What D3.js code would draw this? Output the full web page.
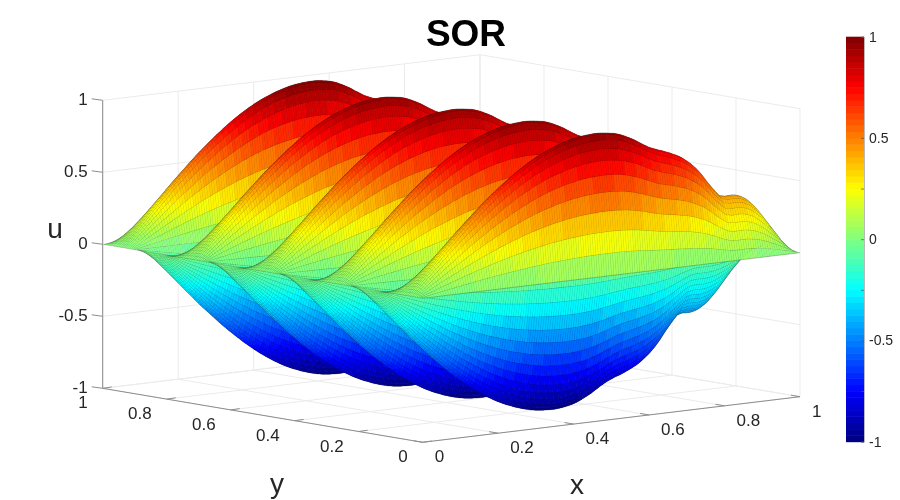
<!DOCTYPE html>
<html>
<head>
<meta charset="utf-8">
<script src="https://cdn.jsdelivr.net/npm/d3@7"></script>
<style>
  body { margin: 0; background: #fff; }
  #plot { position: relative; width: 900px; height: 500px; }
  #plot canvas, #plot svg { position: absolute; left: 0; top: 0; }
  text { font-family: "Liberation Sans", Arial, sans-serif; }
</style>
</head>
<body>
<div id="plot">
  <canvas id="surface" width="900" height="500"></canvas>
  <svg id="chart" width="900" height="500"></svg>
</div>
<script>
// Tick labels
const xTicks = [0, 0.2, 0.4, 0.6, 0.8, 1];
const yTicks = [0, 0.2, 0.4, 0.6, 0.8, 1];
const zTicks = [-1, -0.5, 0, 0.5, 1];
const barTicks = [-1, -0.75, -0.5, -0.25, 0, 0.25, 0.5, 0.75, 1];
const barLabels = [-1, -0.5, 0, 0.5, 1];

// Height along a ridge (x = 0 .. 1 in 160 steps)
const ridgeProfile = [
  0, .020, .039, .059, .078, .098, .118, .137, .156, .176, .195, .214, .233, .252, .271, .290,
  .309, .327, .345, .364, .383, .401, .419, .437, .454, .471, .488, .505, .522, .539, .556, .572,
  .588, .604, .619, .634, .649, .664, .678, .693, .707, .720, .733, .747, .760, .773, .785, .797,
  .809, .820, .831, .842, .853, .863, .872, .882, .891, .900, .908, .916, .924, .931, .937, .944,
  .951, .957, .962, .967, .972, .977, .981, .985, .988, .991, .993, .995, .997, .998, .999, 1,
  1, 1, .999, .997, .995, .992, .989, .986, .982, .977, .971, .964, .956, .948, .939, .930,
  .921, .910, .899, .889, .878, .868, .858, .850, .843, .836, .829, .823, .818, .811, .804, .797,
  .789, .781, .773, .764, .754, .741, .728, .714, .700, .683, .666, .645, .624, .599, .574, .551,
  .528, .507, .486, .466, .447, .445, .44, .437, .44, .44, .44, .437, .432, .425, .415, .405,
  .39, .373, .354, .334, .312, .286, .263, .237, .211, .186, .160, .132, .103, .077, .051, .025, 0
];

// Swing across the ridges (y = 0 .. 1 in 216 steps, one line per flank)
const acrossProfile = [
  0, .152, .300, .440, .570, .686, .785, .864, .922, .958, .97,
  .965, .948, .922, .885, .838, .782, .717, .644, .564, .478, .386, .289, .190, .088, -.015, -.118, -.22, -.319, -.416, -.508, -.594, -.674, -.747, -.812, -.868, -.915, -.952, -.978, -.995, -1,
  -.985, -.941, -.868, -.77, -.648, -.508, -.352, -.186, -.015, .156, .322, .478, .618, .74, .838, .911, .955, .97,
  .965, .948, .922, .885, .838, .782, .717, .644, .564, .478, .386, .289, .190, .088, -.015, -.118, -.22, -.319, -.416, -.508, -.594, -.674, -.747, -.812, -.868, -.915, -.952, -.978, -.995, -1,
  -.985, -.941, -.868, -.77, -.648, -.508, -.352, -.186, -.015, .156, .322, .478, .618, .74, .838, .911, .955, .97,
  .965, .948, .922, .885, .838, .782, .717, .644, .564, .478, .386, .289, .190, .088, -.015, -.118, -.22, -.319, -.416, -.508, -.594, -.674, -.747, -.812, -.868, -.915, -.952, -.978, -.995, -1,
  -.985, -.941, -.868, -.77, -.648, -.508, -.352, -.186, -.015, .156, .322, .478, .618, .74, .838, .911, .955, .97,
  .965, .948, .922, .885, .838, .782, .717, .644, .564, .478, .386, .289, .190, .088, -.015, -.118, -.22, -.319, -.416, -.508, -.594, -.674, -.747, -.812, -.868, -.915, -.952, -.978, -.995, -1,
  -.985, -.94, -.866, -.766, -.643, -.5, -.342, -.174, 0, .174, .342, .5, .643, .766, .866, .94, .985, 1,
  .994, .975, .943, .9, .846, .782, .707, .623, .532, .434, .331, .223, .113, 0
];

const svg = d3.select("#chart");
const ctx = document.getElementById("surface").getContext("2d");

// The view: each data axis adds a fixed screen offset
const xToSx = d3.scaleLinear().domain([0, 1]).range([0, 377.3]);
const xToSy = d3.scaleLinear().domain([0, 1]).range([0, -45.6]);
const yToSx = d3.scaleLinear().domain([0, 1]).range([0, -320]);
const yToSy = d3.scaleLinear().domain([0, 1]).range([0, -54]);
const zToSy = d3.scaleLinear().domain([-1, 1]).range([442.3, 154.3]);
const originX = 422.7;

function project(x, y, z) {
    return [originX + xToSx(x) + yToSx(y), zToSy(z) + xToSy(x) + yToSy(y)];
}

// jet colormap, cut into flat levels
const levels = 64;
function jet(t) {
    const c = v => Math.round(255 * Math.max(0, Math.min(1, 1.5 - Math.abs(4 * t - v))));
    return `rgb(${c(3)},${c(2)},${c(1)})`;
}
const colorScale = d3.scaleQuantize()
    .domain([-1, 1])
    .range(d3.range(levels).map(i => jet((i + 0.5) / levels)));

const line = d3.line().context(ctx);

// Walls and floor grid
ctx.strokeStyle = "#ebebeb";
ctx.lineWidth = 1;
function gridLine(a, b) {
    ctx.beginPath();
    line([project(...a), project(...b)]);
    ctx.stroke();
}
xTicks.forEach(x => {
    gridLine([x, 0, -1], [x, 1, -1]);
    gridLine([x, 1, -1], [x, 1, 1]);
});
yTicks.forEach(y => {
    gridLine([0, y, -1], [1, y, -1]);
    gridLine([1, y, -1], [1, y, 1]);
});
zTicks.forEach(z => {
    gridLine([0, 1, z], [1, 1, z]);
    gridLine([1, 1, z], [1, 0, z]);
});

// Surface cells, far corner first so nearer ones paint over
const nx = ridgeProfile.length - 1;
const ny = acrossProfile.length - 1;
const u = (i, j) => ridgeProfile[i] * acrossProfile[j];
const corner = (i, j) => project(i / nx, j / ny, u(i, j));
ctx.lineWidth = 0.5;
for (let j = ny - 1; j >= 0; j--) {
    for (let i = nx - 1; i >= 0; i--) {
        const a = corner(i, j), b = corner(i + 1, j), c = corner(i + 1, j + 1), d = corner(i, j + 1);
        ctx.beginPath();
        line([a, b, c, d]);
        ctx.closePath();
        ctx.fillStyle = colorScale((u(i, j) + u(i + 1, j) + u(i, j + 1) + u(i + 1, j + 1)) / 4);
        ctx.fill();
        // edges along y make the fine hatch, edges along x the darker rows
        ctx.strokeStyle = "rgba(0,0,0,0.27)";
        ctx.beginPath();
        line([a, d]);
        ctx.stroke();
        ctx.strokeStyle = "rgba(0,0,0,0.45)";
        ctx.beginPath();
        line([a, b]);
        ctx.stroke();
    }
}

// Axis lines
const axisColor = "#8c8c8c";
const axes = svg.append("g").attr("stroke", axisColor).attr("stroke-width", 1);
[[[0, 1, -1], [0, 1, 1]], [[0, 1, -1], [0, 0, -1]], [[0, 0, -1], [1, 0, -1]]].forEach(([a, b]) => {
    axes.append("line")
        .attr("x1", project(...a)[0]).attr("y1", project(...a)[1])
        .attr("x2", project(...b)[0]).attr("y2", project(...b)[1]);
});

// Ticks and their labels
const labels = svg.append("g").attr("fill", "#262626").attr("font-size", 17);
zTicks.forEach(z => {
    const [px, py] = project(0, 1, z);
    axes.append("line").attr("x1", px).attr("y1", py).attr("x2", px - 11).attr("y2", py - 1.5);
    labels.append("text").attr("x", px - 15).attr("y", py + 5)
        .attr("text-anchor", "end").text(z);
});
yTicks.forEach(y => {
    const [px, py] = project(0, y, -1);
    axes.append("line").attr("x1", px).attr("y1", py).attr("x2", px + 9).attr("y2", py - 1.3);
    labels.append("text").attr("x", px - 15).attr("y", py + 20)
        .attr("text-anchor", "end").text(y);
});
xTicks.forEach(x => {
    const [px, py] = project(x, 0, -1);
    axes.append("line").attr("x1", px).attr("y1", py).attr("x2", px - 9).attr("y2", py - 1.5);
    labels.append("text").attr("x", px + 12).attr("y", py + 20)
        .attr("text-anchor", "start").text(x);
});

// Title and axis names
svg.append("text").attr("x", 466).attr("y", 46).attr("text-anchor", "middle")
    .attr("font-size", 37).attr("font-weight", "bold").attr("fill", "#000").text("SOR");
[["u", 55, 238], ["y", 277, 493], ["x", 577, 494]].forEach(([name, px, py]) => {
    svg.append("text").attr("x", px).attr("y", py).attr("text-anchor", "middle")
        .attr("font-size", 28).attr("fill", "#262626").text(name);
});

// Colorbar
const barScale = d3.scaleLinear().domain([-1, 1]).range([441.7, 36.7]);
const bar = svg.append("g");
bar.selectAll("rect")
    .data(colorScale.range())
    .join("rect")
    .attr("x", 846)
    .attr("width", 18)
    .attr("y", (d, i) => barScale(-1 + (i + 1) * 2 / levels))
    .attr("height", barScale(-1) - barScale(-1 + 2 / levels) + 0.5)
    .attr("fill", d => d);
const barAxis = d3.axisRight(barScale)
    .tickValues(barTicks)
    .tickSize(-3)
    .tickPadding(5)
    .tickFormat(d => barLabels.includes(d) ? d : "");
const barG = svg.append("g").attr("transform", "translate(864,0)").call(barAxis);
barG.select(".domain").attr("stroke", "#8c8c8c").attr("stroke-width", 0.6);
barG.selectAll("line").attr("stroke", "#555").attr("stroke-opacity", 0.7);
barG.selectAll("text").attr("font-size", 14).attr("fill", "#262626")
    .attr("font-family", "Liberation Sans, Arial, sans-serif");
</script>
</body>
</html>
